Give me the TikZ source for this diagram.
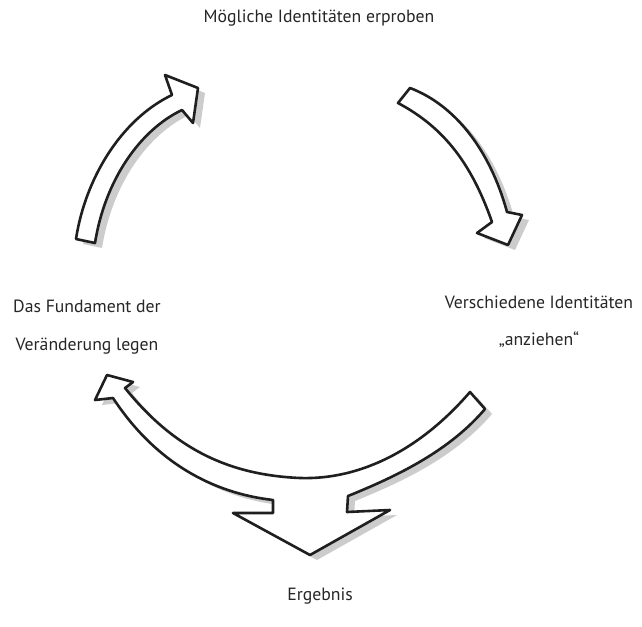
\documentclass[tikz,border=0pt]{standalone}
\usepackage{fontspec}
\setmainfont{PT Sans}
\tikzset{
  arrowshape/.style={draw=black!88, line width=2.6pt, line join=round, fill=white},
  shadowshape/.style={fill=black!20, draw=none},
  lbl/.style={font=\fontsize{17.7}{20}\selectfont, text=black!85, anchor=base, inner sep=0pt}
}
\newcommand\pathTL{(76,239) .. controls (85,180) and (120,120) .. (172,95) -- (165,75) -- (198,88) -- (193,123) -- (182,110) .. controls (140,130) and (105,180) .. (95,243) -- cycle}
\newcommand\pathTR{(410,88) .. controls (455,105) and (490,150) .. (507,212) -- (522,215) -- (508,245) -- (477,233) -- (492,222) .. controls (472,165) and (445,128) .. (398,103) -- cycle}
\newcommand\pathBO{(95,400) -- (107,375) -- (133,382) -- (125,388) .. controls (175,450) and (230,475) .. (300,478) .. controls (360,480) and (420,450) .. (470,392) -- (485,409) .. controls (450,450) and (400,475) .. (348,496) -- (347,512) -- (390,510) -- (310,555) -- (233,513) -- (273,513) -- (273,500) .. controls (212,493) and (155,462) .. (113,398) -- cycle}
\begin{document}
\begin{tikzpicture}[x=1pt,y=-1pt]
  \useasboundingbox[fill=white] (0,0) rectangle (642,626);
  % shadows
  \fill[shadowshape, shift={(7,5)}] \pathTL;
  \fill[shadowshape, shift={(7,5)}] \pathTR;
  \fill[shadowshape, shift={(7,5)}] \pathBO;
  % arrows
  \draw[arrowshape] \pathTL;
  \draw[arrowshape] \pathTR;
  \draw[arrowshape] \pathBO;
  % labels
  \node[lbl] (top) at (319,23) {Mögliche Identitäten erproben};
  \node[lbl] (left1) at (87,312) {Das Fundament der};
  \node[lbl] (left2) at (87,350) {Veränderung legen};
  \node[lbl] (right1) at (539,308) {Verschiedene Identitäten};
  \node[lbl] (right2) at (539,345) {„anziehen“};
  \node[lbl] (bottom) at (320,600) {Ergebnis};
\end{tikzpicture}
\end{document}
